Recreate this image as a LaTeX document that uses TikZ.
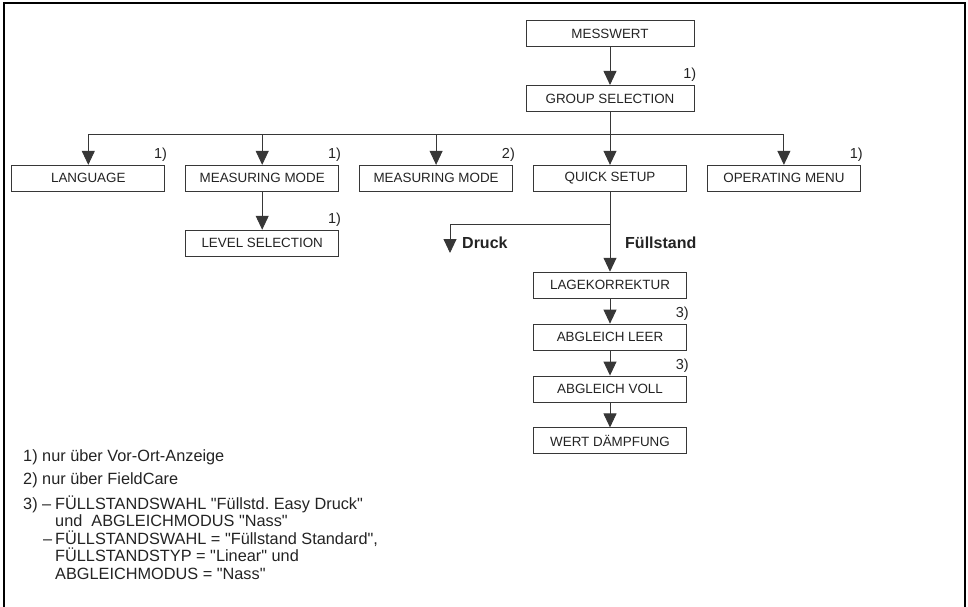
\documentclass[tikz,border=0pt]{standalone}
\usepackage{fontspec}
\setmainfont{Liberation Sans}
\usetikzlibrary{positioning,arrows.meta,calc}
\definecolor{lnGray}{RGB}{55,55,55}
\definecolor{txGray}{RGB}{35,35,35}
\newcommand{\qq}{\textquotedbl}
\frenchspacing

\begin{document}
\begin{tikzpicture}[x=1pt,y=-1pt,
  box/.style={draw=lnGray,line width=0.9pt,minimum width=153pt,minimum height=26pt,inner sep=0pt,font=\fontsize{13.4}{15}\selectfont,text=txGray},
  wide/.style={box,minimum width=168pt},
  a/.style={-{Triangle[length=14pt,width=13pt]},lnGray,line width=0.9pt},
  ln/.style={lnGray,line width=0.9pt},
  nt/.style={anchor=south east,inner sep=0pt,xshift=2pt,yshift=3pt,font=\fontsize{14.5}{16}\selectfont,text=txGray},
  br/.style={font=\bfseries\fontsize{16}{18}\selectfont,text=txGray,anchor=base west,inner sep=0pt},
  fn/.style={font=\fontsize{16.3}{17.5}\selectfont,text=txGray,anchor=base west,inner sep=0pt,align=left}]
  \useasboundingbox (0,0) rectangle (968,607);
  \draw[black,line width=1.4pt] (4,607) -- (4,3) -- (965,3) -- (965,607);

  % menu tree
  \node[wide] (msw) at (610,33.5) {MESSWERT};
  \node[wide,below=38pt of msw] (grp) {GROUP SELECTION};
  \node[box,below=53pt of grp] (qs) {QUICK SETUP};
  \node[box,left=20pt of qs] (mm2) {MEASURING MODE};
  \node[box,left=20pt of mm2] (mm1) {MEASURING MODE};
  \node[box,left=20pt of mm1] (lang) {LANGUAGE};
  \node[box,right=20pt of qs] (om) {OPERATING MENU};
  \node[box,below=38pt of mm1] (lvl) {LEVEL SELECTION};
  \node[box,below=80pt of qs] (lage) {LAGEKORREKTUR};
  \node[box,below=25pt of lage] (leer) {ABGLEICH LEER};
  \node[box,below=25pt of leer] (voll) {ABGLEICH VOLL};
  \node[box,below=25pt of voll] (wd) {WERT DÄMPFUNG};

  \draw[a] (msw) -- (grp);
  \coordinate (bus) at ($(grp.south)+(0,23)$);
  \draw[ln] (grp) -- (bus);
  \draw[ln] (bus -| lang) -- (bus -| om);
  \foreach \n in {lang,mm1,mm2,qs,om} \draw[a] (bus -| \n) -- (\n);
  \draw[a] (mm1) -- (lvl);

  % quick setup branches
  \coordinate (fork) at ($(qs.south)+(0,33)$);
  \coordinate (dtip) at (450,253);
  \draw[ln] (qs) -- (fork);
  \draw[a] (fork) -| (dtip);
  \draw[a] (fork) -- (lage);
  \foreach \s/\t in {lage/leer,leer/voll,voll/wd} \draw[a] (\s) -- (\t);
  \node[br] (druck) at (462,248) {Druck};
  \node[br] (fuell) at (625,248) {Füllstand};

  % footnote marks
  \node[nt] at (grp.north east) {1)};
  \node[nt] at (lang.north east) {1)};
  \node[nt] at (mm1.north east) {1)};
  \node[nt] at (mm2.north east) {2)};
  \node[nt] at (om.north east) {1)};
  \node[nt] at (lvl.north east) {1)};
  \node[nt] at (leer.north east) {3)};
  \node[nt] at (voll.north east) {3)};

  % footnotes (base of a multi-line node = its last line)
  \node[fn] (fn1) at (23,461) {1) nur über Vor-Ort-Anzeige};
  \node[fn] (fn2) at (23,484) {2) nur über FieldCare};
  \node[fn] (fn3) at (23,579) {\makebox[32pt][l]{3) --}FÜLLSTANDSWAHL \qq Füllstd. Easy Druck\qq\\
    \hspace*{32pt}und\ \ ABGLEICHMODUS \qq Nass\qq\\
    \hspace*{20pt}\makebox[12pt][l]{--}FÜLLSTANDSWAHL = \qq Füllstand Standard\qq,\\
    \hspace*{32pt}FÜLLSTANDSTYP = \qq Linear\qq{} und\\
    \hspace*{32pt}ABGLEICHMODUS = \qq Nass\qq};
\end{tikzpicture}
\end{document}
